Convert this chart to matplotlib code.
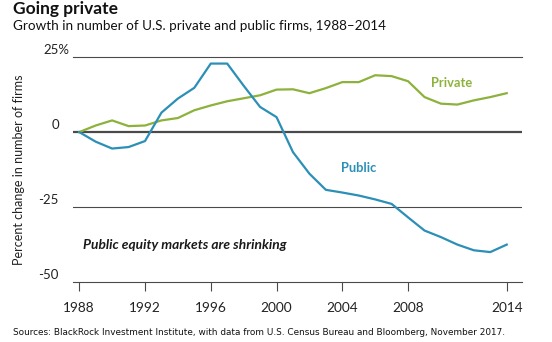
import matplotlib
matplotlib.use("Agg")
import matplotlib.pyplot as plt
import matplotlib.transforms as mtransforms

# Percent change in number of firms since 1988
years = list(range(1988, 2015))
public = [0.0, -3.2, -5.5, -5.0, -3.0, 6.5, 11.2, 14.8, 22.9, 22.9,
          15.5, 8.4, 5.0, -6.7, -13.9, -19.3, -20.2, -21.2, -22.5, -24.0,
          -28.5, -32.9, -35.1, -37.6, -39.5, -40.1, -37.6]
private = [0.0, 2.2, 3.9, 2.0, 2.2, 3.9, 4.7, 7.3, 8.9, 10.3,
           11.3, 12.3, 14.2, 14.3, 13.0, 14.7, 16.7, 16.7, 19.0, 18.7,
           17.0, 11.7, 9.5, 9.2, 10.6, 11.7, 13.0]

xtick_years = [1988, 1992, 1996, 2000, 2004, 2008, 2014]
ytick_values = [0, -25, -50]
ytick_labels = ["0", "-25", "-50"]
top_value, top_label = 25, "25%"

PUBLIC_COLOR = "#2b8fb6"
PRIVATE_COLOR = "#8cb23c"
LINE_GRAY = "#4a4a4a"
FONT = ["Lato", "DejaVu Sans"]

plt.rcParams["font.family"] = FONT

fig = plt.figure(figsize=(5.52, 3.42), dpi=100)
ax = fig.add_axes([0.1322, 0.1763, 0.8135, 0.6562])

ax.set_xlim(1987.62, 2014.93)
ax.set_ylim(-50, 25)

# reference lines
ax.axhline(25, color=LINE_GRAY, lw=0.8, clip_on=False, zorder=1)
ax.axhline(-25, color=LINE_GRAY, lw=0.8, zorder=1)
ax.axhline(0, color=LINE_GRAY, lw=1.6, zorder=1)

ax.plot(years, private, color=PRIVATE_COLOR, lw=1.6, zorder=3,
        solid_joinstyle="round")
ax.plot(years, public, color=PUBLIC_COLOR, lw=1.6, zorder=4,
        solid_joinstyle="round")

ax.text(2010.67, 16.4, "Private", color=PRIVATE_COLOR, fontsize=9.3,
        fontweight="bold", ha="center", va="center")
ax.text(2004.97, -11.9, "Public", color=PUBLIC_COLOR, fontsize=9.3,
        fontweight="bold", ha="center", va="center")
ax.text(1988.25, -37.9, "Public equity markets are shrinking", fontsize=9.9,
        fontweight="bold", fontstyle="italic", color="#1a1a1a",
        ha="left", va="center")

for side in ("top", "right", "left"):
    ax.spines[side].set_visible(False)
ax.spines["bottom"].set_color(LINE_GRAY)
ax.spines["bottom"].set_linewidth(0.8)

ax.set_xticks(xtick_years)
ax.set_xticklabels([str(y) for y in xtick_years], fontsize=9.8, color="#222222")
ax.tick_params(axis="x", length=6.5, width=0.8, color=LINE_GRAY, pad=8)

# y labels sit just above their lines; the "%" on the top one hangs right
ax.set_yticks([])
ylab_tr = mtransforms.offset_copy(ax.get_yaxis_transform(), fig=fig,
                                  x=-14, y=1, units="dots")
for v, lab in zip(ytick_values, ytick_labels):
    ax.text(0, v, lab, transform=ylab_tr, ha="right", va="bottom",
            fontsize=9.5, color="#222222")
top_tr = mtransforms.offset_copy(ax.get_yaxis_transform(), fig=fig,
                                 x=-4, y=1, units="dots")
ax.text(0, top_value, top_label, transform=top_tr, ha="right", va="bottom",
        fontsize=9.5, color="#222222")

fig.text(0.034, 0.505, "Percent change in number of firms", rotation=90,
         fontsize=9, color="#222222", ha="center", va="center")

fig.text(0.024, 1 - 14 / 342, "Going private", fontsize=12.5,
         fontweight="bold", color="#111111", ha="left", va="baseline")
fig.text(0.024, 1 - 30.5 / 342,
         "Growth in number of U.S. private and public firms, 1988\u20132014",
         fontsize=9.7, color="#111111", ha="left", va="baseline")

fig.text(0.024, 1 - 332.5 / 342,
         "Sources: BlackRock Investment Institute, with data from U.S. Census "
         "Bureau and Bloomberg, November 2017.",
         fontsize=6.4, color="#111111", ha="left", va="center",
         family="DejaVu Sans")

fig.savefig("out.png", dpi=100)
